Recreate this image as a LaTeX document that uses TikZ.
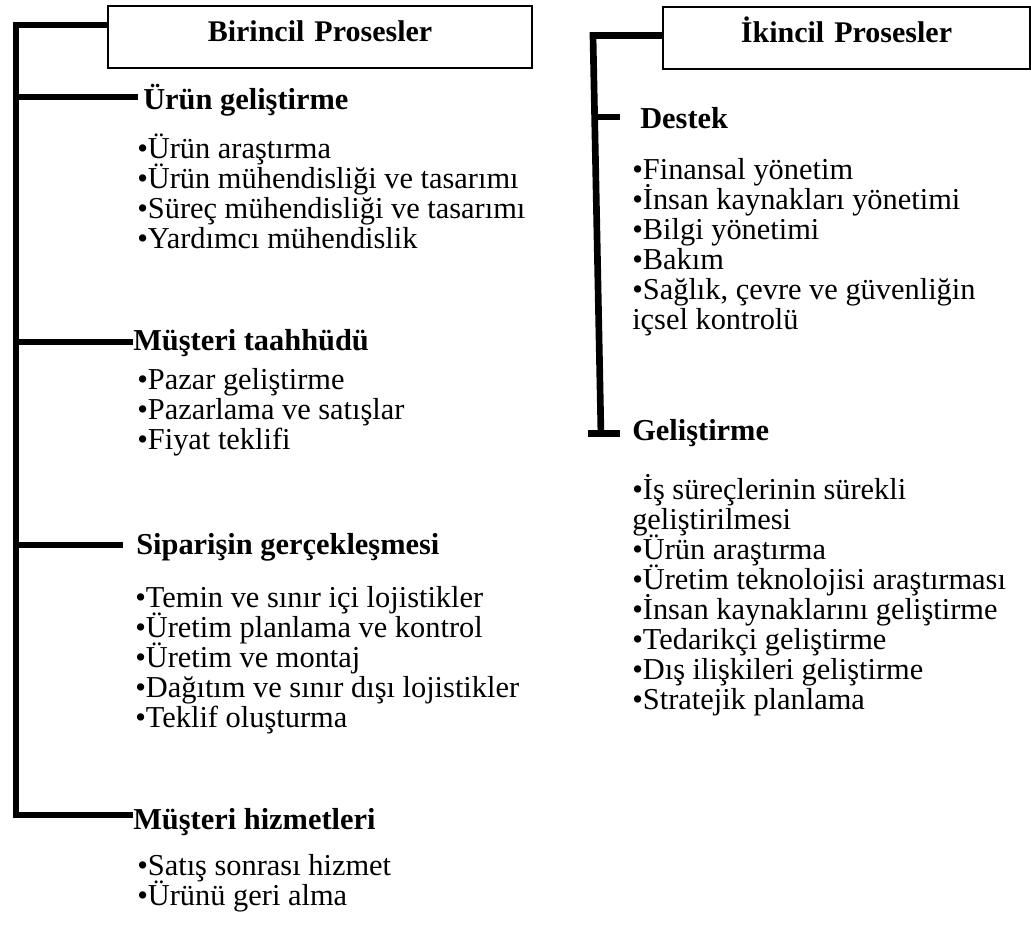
\documentclass[tikz,border=0pt]{standalone}
\usepackage{fontspec}
\setmainfont{Liberation Serif}
\begin{document}
\begin{tikzpicture}[x=0.75pt,y=-0.75pt,
  txt/.style={anchor=base west,inner sep=0pt,font=\fontsize{22.8}{26}\selectfont},
  head/.style={anchor=base west,inner sep=0pt,font=\fontsize{22.8}{26}\selectfont\bfseries},
  titlebox/.style={draw,line width=1pt,inner sep=0pt,anchor=base,align=center,
    text height=26.25pt,text depth=20.25pt,font=\fontsize{22.5}{26}\selectfont\bfseries},
  spine/.style={line width=5pt,line join=miter}]
\useasboundingbox (0,0) rectangle (1031,926);
% title boxes
\node[titlebox,text width=318pt] (box1) at (320,41) {Birincil Prosesler};
\node[titlebox,text width=275.25pt] (box2) at (846.5,42) {İkincil Prosesler};
% left column
\node[head] (h1) at (143,109) {Ürün geliştirme};
\node[txt] (a1) at (137,158) {•Ürün araştırma};
\node[txt] (a2) at (137,188) {•Ürün mühendisliği ve tasarımı};
\node[txt] (a3) at (137,218) {•Süreç mühendisliği ve tasarımı};
\node[txt] (a4) at (137,248) {•Yardımcı mühendislik};
\node[head] (h2) at (133,350) {Müşteri taahhüdü};
\node[txt] (b1) at (137,389) {•Pazar geliştirme};
\node[txt] (b2) at (137,419) {•Pazarlama ve satışlar};
\node[txt] (b3) at (137,449) {•Fiyat teklifi};
\node[head] (h3) at (136,554) {Siparişin gerçekleşmesi};
\node[txt] (c1) at (135,607) {•Temin ve sınır içi lojistikler};
\node[txt] (c2) at (135,637) {•Üretim planlama ve kontrol};
\node[txt] (c3) at (135,667) {•Üretim ve montaj};
\node[txt] (c4) at (135,697) {•Dağıtım ve sınır dışı lojistikler};
\node[txt] (c5) at (135,727) {•Teklif oluşturma};
\node[head] (h4) at (133,829) {Müşteri hizmetleri};
\node[txt] (d1) at (137,875) {•Satış sonrası hizmet};
\node[txt] (d2) at (137,905) {•Ürünü geri alma};
% right column
\node[head] (h5) at (640,128) {Destek};
\node[txt] (e1) at (632,179) {•Finansal yönetim};
\node[txt] (e2) at (632,209) {•İnsan kaynakları yönetimi};
\node[txt] (e3) at (632,239) {•Bilgi yönetimi};
\node[txt] (e4) at (632,269) {•Bakım};
\node[txt] (e5) at (632,299) {•Sağlık, çevre ve güvenliğin};
\node[txt] (e6) at (632,329) {içsel kontrolü};
\node[head] (h6) at (632,440) {Geliştirme};
\node[txt] (f1) at (632,499) {•İş süreçlerinin sürekli};
\node[txt] (f2) at (632,529) {geliştirilmesi};
\node[txt] (f3) at (632,559) {•Ürün araştırma};
\node[txt] (f4) at (632,589) {•Üretim teknolojisi araştırması};
\node[txt] (f5) at (632,619) {•İnsan kaynaklarını geliştirme};
\node[txt] (f6) at (632,649) {•Tedarikçi geliştirme};
\node[txt] (f7) at (632,679) {•Dış ilişkileri geliştirme};
\node[txt] (f8) at (632,709) {•Stratejik planlama};
% left spine
\coordinate (L0) at (16,25);
\coordinate (L1) at (16,97);
\coordinate (L2) at (16,342);
\coordinate (L3) at (16,545);
\coordinate (L4) at (16,815);
\coordinate (E1) at (138,97);
\coordinate (E2) at (133,342);
\coordinate (E3) at (123,545);
\coordinate (E4) at (133,815);
\draw[spine] (box1.west |- L0) -- (L0) -- (L4) -- (E4);
\draw[spine] (L1) -- (E1);
\draw[spine] (L2) -- (E2);
\draw[spine] (L3) -- (E3);
% right spine
\coordinate (R0) at (593,35.5);
\coordinate (R2) at (601,436);
\coordinate (R1) at (595,117);
\coordinate (F1) at (620,117);
\coordinate (G0) at (588,433.5);
\coordinate (G1) at (620,433.5);
\draw[spine] (box2.west |- R0) -- (R0) -- (R2);
\draw[spine] (R1) -- (F1);
\draw[spine] (G0) -- (G1);
\end{tikzpicture}
\end{document}
